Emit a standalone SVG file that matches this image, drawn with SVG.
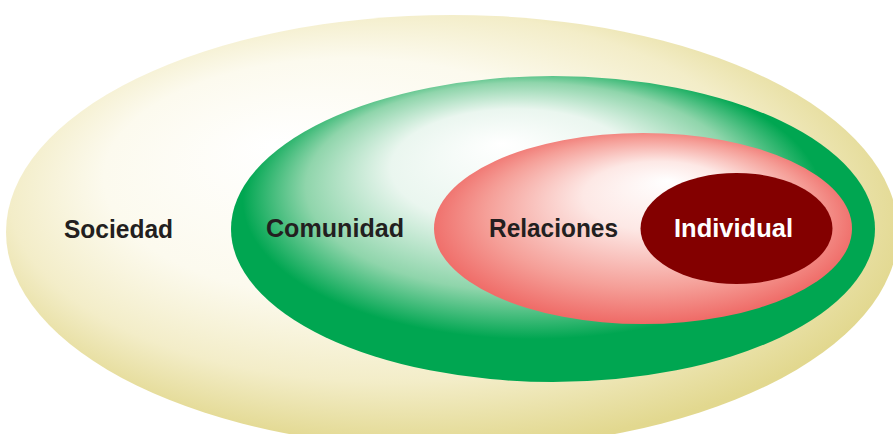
<svg xmlns="http://www.w3.org/2000/svg" width="893" height="434" viewBox="0 0 893 434">
<defs>
<radialGradient id="gY" cx="0.47" cy="0.45" r="0.55" fx="0.3" fy="0.3">
<stop offset="0" stop-color="#ffffff"/>
<stop offset="0.5" stop-color="#fcfaee"/>
<stop offset="0.78" stop-color="#f3edc8"/>
<stop offset="1" stop-color="#e2d88f"/>
</radialGradient>
<radialGradient id="gG" cx="0.48" cy="0.45" r="0.55" fx="0.42" fy="0.22">
<stop offset="0" stop-color="#ffffff"/>
<stop offset="0.35" stop-color="#eaf6ef"/>
<stop offset="0.62" stop-color="#8fd5ab"/>
<stop offset="0.82" stop-color="#00a651"/>
<stop offset="1" stop-color="#00a651"/>
</radialGradient>
<radialGradient id="gR" cx="0.5" cy="0.48" r="0.52" fx="0.56" fy="0.25">
<stop offset="0" stop-color="#ffffff"/>
<stop offset="0.35" stop-color="#fde8e5"/>
<stop offset="0.75" stop-color="#f59f98"/>
<stop offset="1" stop-color="#ef6a66"/>
</radialGradient>
</defs>
<style>
.lbl{font-family:"Liberation Sans",Arial,sans-serif;font-weight:bold;font-size:26px;text-anchor:middle}
.dark{fill:#231f20}
.light{fill:#ffffff}
</style>
<g id="sociedad">
<ellipse cx="452" cy="232" rx="446" ry="217" fill="url(#gY)"/>
<text class="lbl dark" x="118.5" y="238" textLength="109" lengthAdjust="spacingAndGlyphs">Sociedad</text>
</g>
<g id="comunidad">
<ellipse cx="553" cy="229" rx="322" ry="153" fill="url(#gG)"/>
<text class="lbl dark" x="335" y="237" textLength="138" lengthAdjust="spacingAndGlyphs">Comunidad</text>
</g>
<g id="relaciones">
<ellipse cx="643" cy="228.5" rx="209" ry="95.5" fill="url(#gR)"/>
<text class="lbl dark" x="553.5" y="237" textLength="129" lengthAdjust="spacingAndGlyphs">Relaciones</text>
</g>
<g id="individual">
<ellipse cx="736.5" cy="228.5" rx="96" ry="55.5" fill="#830000"/>
<text class="lbl light" x="733.5" y="237" textLength="119" lengthAdjust="spacingAndGlyphs">Individual</text>
</g>
<g id="connectors"/>
</svg>
